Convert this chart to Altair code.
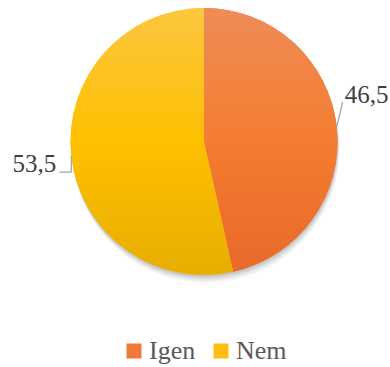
import altair as alt
import pandas as pd

categories = ["Igen", "Nem"]
values = [46.5, 53.5]
labels = ["46,5", "53,5"]
order_idx = [0, 1]
solid_colors = ["#F0783A", "#FDBE10"]
grad_top = ["#EF8C58", "#FCC640"]
grad_mid = ["#F47D30", "#FFC000"]
grad_bottom = ["#E8692A", "#E6AE00"]

df = pd.DataFrame({"cat": categories, "val": values, "lab": labels, "idx": order_idx})

CX, CY, R = 204, 141.5, 133.5
FONT = "Liberation Serif"


def grad(i):
    return {"gradient": "linear", "x1": 0, "y1": 0, "x2": 0, "y2": 1,
            "stops": [{"offset": 0, "color": grad_top[i]},
                      {"offset": 0.5, "color": grad_mid[i]},
                      {"offset": 1, "color": grad_bottom[i]}]}


base = alt.Chart(df)
theta = alt.Theta("val:Q", stack=True)
order = alt.Order("idx:Q")

shadows = []
for off, op in [(2, 0.08), (4, 0.07), (6, 0.05), (8, 0.04)]:
    shadows.append(
        base.mark_arc(radius=R, color="#000000", opacity=op, strokeWidth=0).encode(
            theta=theta, order=order, x=alt.value(CX + off / 4), y=alt.value(CY + off)
        )
    )

solid = base.mark_arc(radius=R, strokeWidth=0).encode(
    theta=theta,
    order=order,
    x=alt.value(CX),
    y=alt.value(CY),
    fill=alt.Fill(
        "cat:N",
        scale=alt.Scale(domain=categories, range=solid_colors),
        legend=alt.Legend(
            orient="none", legendX=121, legendY=338, direction="horizontal",
            title=None, symbolType="square", symbolSize=225, symbolStrokeWidth=0,
            labelFont=FONT, labelFontSize=26, labelColor="#595959",
            columnPadding=12, labelOffset=2, padding=0,
        ),
    ),
)

gradient = base.mark_arc(radius=R, strokeWidth=0).encode(
    theta=theta,
    order=order,
    x=alt.value(CX),
    y=alt.value(CY),
    fill=alt.condition("datum.cat == 'Igen'", alt.value(grad(0)), alt.value(grad(1))),
)

lbl = (
    base.transform_joinaggregate(total="sum(val)")
    .transform_window(cum="sum(val)", sort=[alt.SortField("idx")], frame=[None, 0])
    .transform_calculate(mid="PI*(2*datum.cum - datum.val)/datum.total")
    .transform_calculate(ex=f"{CX}+{R}*sin(datum.mid)", ey=f"{CY}-{R}*cos(datum.mid)",
                         right="sin(datum.mid) > 0")
    .transform_calculate(p1x="datum.right ? datum.ex + 6 : datum.ex",
                         p1y="datum.right ? datum.ey - 25 : datum.ey + 16")
    .transform_calculate(p2x="datum.right ? datum.p1x : datum.p1x - 12",
                         p2y="datum.p1y")
)

X = lambda f: alt.X(f, scale=None, axis=None)
Y = lambda f: alt.Y(f, scale=None, axis=None)

rule1 = lbl.mark_rule(color="#A6A6A6", strokeWidth=1.3).encode(
    x=X("ex:Q"), y=Y("ey:Q"), x2="p1x:Q", y2="p1y:Q")
rule2 = lbl.mark_rule(color="#A6A6A6", strokeWidth=1.3).encode(
    x=X("p1x:Q"), y=Y("p1y:Q"), x2="p2x:Q", y2="p2y:Q")

text_r = lbl.transform_filter("datum.right").mark_text(
    align="left", baseline="alphabetic", dx=2, dy=1, font=FONT, fontSize=25, color="#404040"
).encode(x=X("p2x:Q"), y=Y("p2y:Q"), text="lab:N")
text_l = lbl.transform_filter("!datum.right").mark_text(
    align="right", baseline="alphabetic", dx=-3, dy=0, font=FONT, fontSize=25, color="#404040"
).encode(x=X("p2x:Q"), y=Y("p2y:Q"), text="lab:N")

chart = (
    alt.layer(*shadows, solid, gradient, rule1, rule2, text_r, text_l)
    .properties(width=390, height=367, autosize="none", padding=0, background="white")
    .configure_view(stroke=None)
)

chart.save("out.html", embed_options={"renderer": "svg", "actions": False})
